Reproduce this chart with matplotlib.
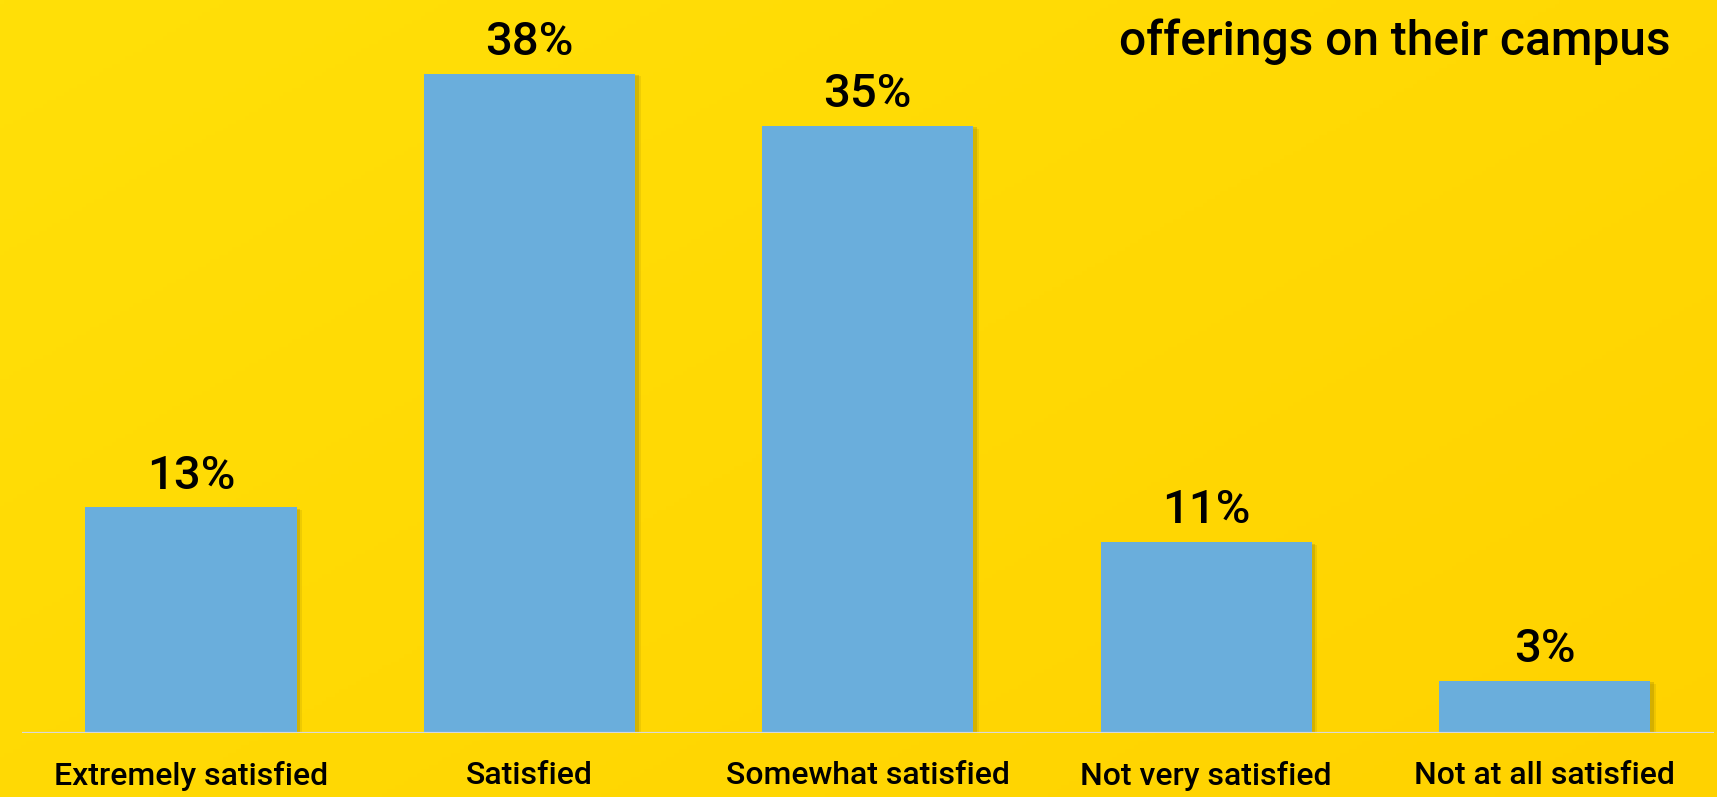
import matplotlib
matplotlib.use("Agg")
import matplotlib.pyplot as plt
import matplotlib.patheffects as pe
import numpy as np

categories = ["Extremely satisfied", "Satisfied", "Somewhat satisfied",
              "Not very satisfied", "Not at all satisfied"]
values = [13, 38, 35, 11, 3]
title = "offerings on their campus"

BAR_COLOR = "#6aaedc"
FONT = "Roboto"

W, H, DPI = 1717, 797, 100
fig = plt.figure(figsize=(W / DPI, H / DPI), dpi=DPI)

# yellow background, slightly warmer towards the bottom right
bg = fig.add_axes([0, 0, 1, 1], zorder=0)
yy, xx = np.mgrid[0:1:200j, 0:1:400j]
t = 0.55 * xx + 0.45 * yy
top = np.array([255, 224, 8]) / 255
bot = np.array([255, 210, 0]) / 255
img = top[None, None, :] * (1 - t[..., None]) + bot[None, None, :] * t[..., None]
bg.imshow(img, aspect="auto", extent=[0, 1, 0, 1])
bg.axis("off")

# one category slot = 338.35 px, first bar centred at x = 191
pitch = 338.35
left = 191.1 - pitch / 2
ax = fig.add_axes([left / W, 64 / H, 5 * pitch / W, 728.7 / H], zorder=1)
ax.set_facecolor("none")
x = np.arange(len(values))
bars = ax.bar(x, values, width=0.6245, color=BAR_COLOR, zorder=2)
for b in bars:
    b.set_path_effects([
        pe.SimplePatchShadow(offset=(4, -2), shadow_rgbFace="#7a6500", alpha=0.12),
        pe.SimplePatchShadow(offset=(2.5, -1), shadow_rgbFace="#7a6500", alpha=0.22),
        pe.Normal(),
    ])

for xi, v in zip(x, values):
    ax.annotate(f"{v}%", (xi, v), xytext=(0, 7), textcoords="offset points",
                ha="center", va="bottom", fontsize=34, family=FONT,
                fontweight="medium", color="black")

ax.axhline(0, color="#d9d9d9", lw=1.6, zorder=3)
ax.set_xlim(-0.5, 4.5)
ax.set_ylim(0, 42)
ax.set_xticks(x)
ax.set_xticklabels(categories, fontsize=23, family=FONT, fontweight="medium")
ax.tick_params(axis="x", length=0, pad=20)
ax.set_yticks([])
for s in ax.spines.values():
    s.set_visible(False)

fig.text(1670 / W, 1 - 42 / H, title, ha="right", va="center",
         fontsize=34.5, family=FONT, fontweight="medium", color="black")

fig.savefig("out.png", dpi=DPI)
